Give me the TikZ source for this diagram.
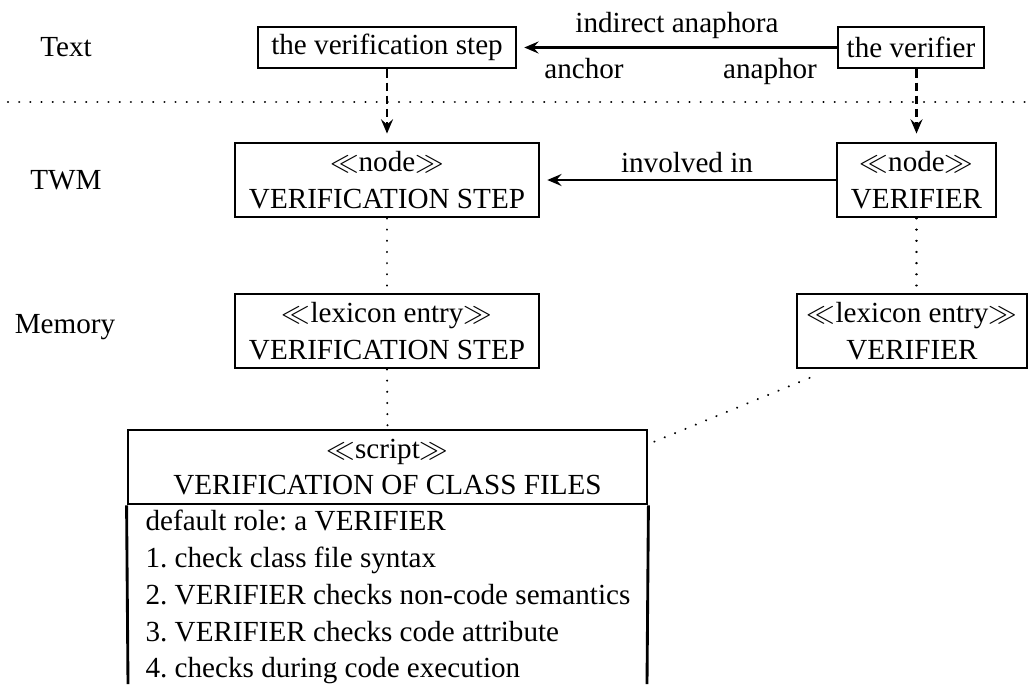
\documentclass[tikz,border=0pt]{standalone}
\usepackage{fontspec}
\setmainfont{Liberation Serif}
\usetikzlibrary{arrows.meta}
\frenchspacing
\begin{document}
\begin{tikzpicture}[x=0.35pt,y=-0.35pt,
  every node/.style={font=\fontsize{10.2}{12.9}\selectfont, inner sep=0pt},
  box/.style={draw, line width=1pt, align=center},
  boxline/.style={line width=1pt},
  arr/.style={-{Stealth[length=5pt,width=4.2pt,inset=1.8pt]}, line width=0.8pt},
  dasharr/.style={arr, dash pattern=on 3pt off 1.6pt},
  dotline/.style={line width=0.8pt, dash pattern=on 0.01pt off 3.9pt, line cap=round}
]
\useasboundingbox (0,0) rectangle (1029,684);

% row labels
\node (lt) at (66,47) {Text};
\node (lw) at (66,180) {TWM};
\node (lm) at (65,327) {Memory};

% separator
\coordinate (sepL) at (8,102);
\coordinate (sepR) at (1029,102);
\draw[dotline] (sepL) -- (sepR);

% text level
\node[box, minimum width={258*0.35pt}, minimum height={41*0.35pt}] (tvs) at (387,47.5) {the verification step};
\node[box, minimum width={146*0.35pt}, minimum height={41*0.35pt}] (tv) at (911,47.5) {the verifier};

% TWM level
\node[box, minimum width={304*0.35pt}, minimum height={74*0.35pt}] (nvs) at (387,180) {$\ll$node$\gg$\\VERIFICATION STEP};
\node[box, minimum width={159*0.35pt}, minimum height={74*0.35pt}] (nv) at (916.5,180) {$\ll$node$\gg$\\VERIFIER};

% memory level
\node[box, minimum width={304*0.35pt}, minimum height={74*0.35pt}] (lvs) at (387,331) {$\ll$lexicon entry$\gg$\\VERIFICATION STEP};
\node[box, minimum width={230*0.35pt}, minimum height={74*0.35pt}] (lv) at (912,331) {$\ll$lexicon entry$\gg$\\VERIFIER};

% script
\node[box, minimum width={519*0.35pt}, minimum height={74*0.35pt}] (sh) at (387.5,467) {$\ll$script$\gg$\\VERIFICATION OF CLASS FILES};
\coordinate (sbl) at (128,684);
\coordinate (sbr) at (647,684);
\draw[boxline] (sh.south west) -- (sbl);
\draw[boxline] (sh.south east) -- (sbr);
\node[anchor=base west] (s1) at (145,530) {default role: a VERIFIER};
\node[anchor=base west] (s2) at (145,567) {1. check class file syntax};
\node[anchor=base west] (s3) at (145,604) {2. VERIFIER checks non-code semantics};
\node[anchor=base west] (s4) at (145,641) {3. VERIFIER checks code attribute};
\node[anchor=base west] (s5) at (145,677) {4. checks during code execution};

% connectors
\draw[arr, shorten >=2.4pt] (tv.west) -- (tvs.east);
\node[anchor=base] (ia) at (677,32) {indirect anaphora};
\node[anchor=base] (anc) at (584,78) {anchor};
\node[anchor=base] (ana) at (770,78) {anaphor};

\draw[arr, shorten >=2.4pt] (nv.west) -- (nvs.east);
\node[anchor=base] (inv) at (687,172) {involved in};

\draw[dasharr, shorten >=2.8pt] (tvs.south) -- (nvs.north);
\draw[dasharr, shorten >=2.8pt] (nv.north |- tv.south) -- (nv.north);

\draw[dotline] (nvs.south) -- (lvs.north);
\draw[dotline] (nv.south) -- (nv.south |- lv.north);
\draw[dotline] (lvs.south) -- (sh.north);
\draw[dotline] ([shift={(6,13)}]sh.north east) -- ([shift={(20,6)}]lv.south west);
\end{tikzpicture}
\end{document}
